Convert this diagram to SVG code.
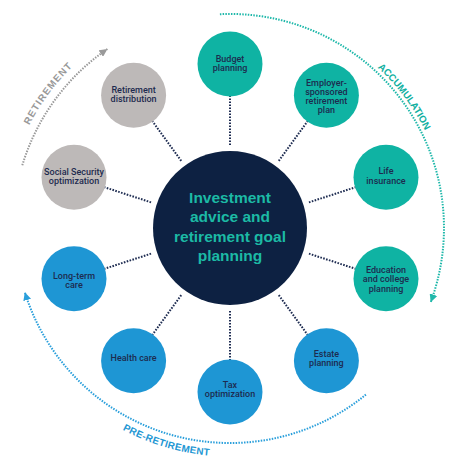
<svg xmlns="http://www.w3.org/2000/svg" width="475" height="458" viewBox="0 0 475 458">
  <style>
    .teal { fill: #0fb3a3; }
    .blue { fill: #1e96d4; }
    .gray { fill: #bdb9b8; }
    .lbl { font-family: Roboto, "Liberation Sans", sans-serif; font-weight: 500; font-size: 9px; fill: #1d2b4f; text-anchor: middle; }
    .ctr { font-family: "Liberation Sans", Arial, sans-serif; font-weight: bold; font-size: 15.5px; fill: #1cbaa5; text-anchor: middle; }
    .conn line { stroke: #1f2d52; stroke-width: 2; stroke-dasharray: 1.6 1.4; }
    .arc { fill: none; stroke-width: 2; stroke-dasharray: 1.5 1.3; }
    .phase { font-family: "Liberation Sans", Arial, sans-serif; font-weight: bold; font-size: 9.8px; }
  </style>
  <defs>
    <marker id="ahTeal" viewBox="0 0 10 10" refX="10" refY="5" markerWidth="8" markerHeight="8" markerUnits="userSpaceOnUse" orient="auto">
      <path d="M0,0 L10,5 L0,10 z" fill="#1fb8aa"/>
    </marker>
    <marker id="ahGray" viewBox="0 0 10 10" refX="10" refY="5" markerWidth="8" markerHeight="8" markerUnits="userSpaceOnUse" orient="auto">
      <path d="M0,0 L10,5 L0,10 z" fill="#9a9a9a"/>
    </marker>
    <marker id="ahBlue" viewBox="0 0 10 10" refX="10" refY="5" markerWidth="8" markerHeight="8" markerUnits="userSpaceOnUse" orient="auto">
      <path d="M0,0 L10,5 L0,10 z" fill="#2a9fdb"/>
    </marker>
    <path id="tpAcc" d="M279.04,15.59 A218,218 0 0 1 447.70,239.41"/>
    <path id="tpRet" d="M4.92,241.77 A225.5,225.5 0 0 1 177.36,8.73"/>
    <path id="tpPre" d="M39.24,353.78 A228.5,228.5 0 0 0 320.75,437.71"/>
  </defs>

  <g id="phases">
    <path class="arc" stroke="#1fb8aa" d="M219.9,14.2 A214,214 0 0 1 430.7,302.2" marker-end="url(#ahTeal)"/>
    <path class="arc" stroke="#9a9a9a" d="M22.3,165.3 A217,217 0 0 1 107.4,49.0" marker-end="url(#ahGray)"/>
    <path class="arc" stroke="#2a9fdb" d="M365.9,394.6 A215,215 0 0 1 24.8,292.3" marker-end="url(#ahBlue)"/>
    <text class="phase" fill="#11b0a0"><textPath href="#tpAcc" startOffset="50%" text-anchor="middle">ACCUMULATION</textPath></text>
    <text class="phase" fill="#999999" letter-spacing="1"><textPath href="#tpRet" startOffset="50%" text-anchor="middle">RETIREMENT</textPath></text>
    <text class="phase" fill="#2196d3" letter-spacing="0.3"><textPath href="#tpPre" startOffset="50%" text-anchor="middle">PRE-RETIREMENT</textPath></text>
  </g>

  <g id="connectors" class="conn">
    <line x1="230" y1="145" x2="230" y2="96"/>
    <line x1="278.79" y1="160.85" x2="307.59" y2="121.21"/>
    <line x1="308.94" y1="202.35" x2="355.54" y2="187.21"/>
    <line x1="308.94" y1="253.65" x2="355.54" y2="268.79"/>
    <line x1="278.79" y1="295.15" x2="307.59" y2="334.79"/>
    <line x1="230" y1="311" x2="230" y2="360"/>
    <line x1="181.21" y1="295.15" x2="152.41" y2="334.79"/>
    <line x1="151.06" y1="253.65" x2="104.46" y2="268.79"/>
    <line x1="151.06" y1="202.35" x2="104.46" y2="187.21"/>
    <line x1="181.21" y1="160.85" x2="152.41" y2="121.21"/>
  </g>

  <g id="center">
    <circle cx="230" cy="228" r="77" fill="#0d2142"/>
    <text class="ctr" x="230" y="203">Investment</text>
    <text class="ctr" x="230" y="222.3">advice and</text>
    <text class="ctr" x="230" y="241.6">retirement goal</text>
    <text class="ctr" x="230" y="260.8">planning</text>
  </g>

  <g id="budget">
    <circle class="teal" cx="230" cy="64" r="32.5"/>
    <text class="lbl" x="230" y="61.5">Budget</text>
    <text class="lbl" x="230" y="71">planning</text>
  </g>
  <g id="employer">
    <circle class="teal" cx="326.4" cy="95.3" r="32.5"/>
    <text class="lbl" x="326.4" y="85.6">Employer-</text>
    <text class="lbl" x="326.4" y="94.9">sponsored</text>
    <text class="lbl" x="326.4" y="104.1">retirement</text>
    <text class="lbl" x="326.4" y="113.4">plan</text>
  </g>
  <g id="life">
    <circle class="teal" cx="386" cy="177.3" r="32.5"/>
    <text class="lbl" x="386" y="174.2">Life</text>
    <text class="lbl" x="386" y="183.5">insurance</text>
  </g>
  <g id="education">
    <circle class="teal" cx="386" cy="278.7" r="32.5"/>
    <text class="lbl" x="386" y="273">Education</text>
    <text class="lbl" x="386" y="282.3">and college</text>
    <text class="lbl" x="386" y="291.6">planning</text>
  </g>
  <g id="estate">
    <circle class="blue" cx="326.4" cy="360.7" r="32.5"/>
    <text class="lbl" x="326.4" y="356.7">Estate</text>
    <text class="lbl" x="326.4" y="366">planning</text>
  </g>
  <g id="tax">
    <circle class="blue" cx="230" cy="392" r="32.5"/>
    <text class="lbl" x="230" y="387.7">Tax</text>
    <text class="lbl" x="230" y="397.2">optimization</text>
  </g>
  <g id="health">
    <circle class="blue" cx="133.6" cy="360.7" r="32.5"/>
    <text class="lbl" x="133.6" y="361.3">Health care</text>
  </g>
  <g id="longterm">
    <circle class="blue" cx="74" cy="278.7" r="32.5"/>
    <text class="lbl" x="74" y="278.7">Long-term</text>
    <text class="lbl" x="74" y="288">care</text>
  </g>
  <g id="social">
    <circle class="gray" cx="74" cy="177.3" r="32.5"/>
    <text class="lbl" x="74" y="175">Social Security</text>
    <text class="lbl" x="74" y="184.3">optimization</text>
  </g>
  <g id="retirement">
    <circle class="gray" cx="133.6" cy="95.3" r="32.5"/>
    <text class="lbl" x="133.6" y="92.8">Retirement</text>
    <text class="lbl" x="133.6" y="102.1">distribution</text>
  </g>
</svg>
